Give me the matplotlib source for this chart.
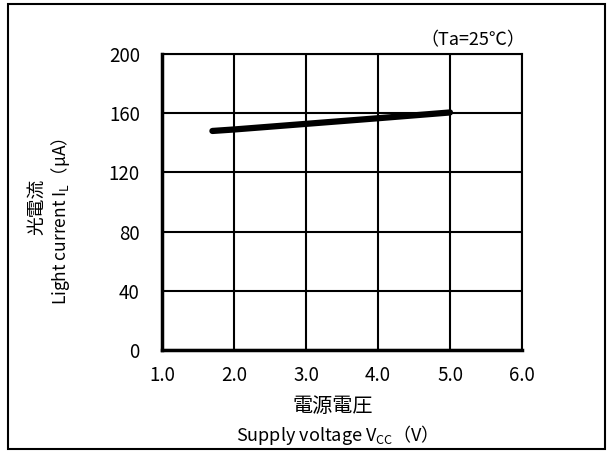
import matplotlib
matplotlib.use("Agg")
import matplotlib.pyplot as plt
from matplotlib.patches import Rectangle

plt.rcParams['font.family'] = ['Noto Sans CJK JP', 'DejaVu Sans']
plt.rcParams['mathtext.fontset'] = 'custom'
plt.rcParams['mathtext.rm'] = 'Noto Sans CJK JP'

# data
vcc = [1.7, 2.0, 3.0, 4.0, 5.0]
il = [148.0, 149.0, 152.8, 156.6, 160.5]

x_ticks = [1.0, 2.0, 3.0, 4.0, 5.0, 6.0]
x_labels = ["1.0", "2.0", "3.0", "4.0", "5.0", "6.0"]
y_ticks = [0, 40, 80, 120, 160, 200]

fig = plt.figure(figsize=(6.12, 4.53), dpi=100)
ax = fig.add_axes([162/612, 1 - 350/453, (522-162)/612, (350-54)/453])

ax.plot(vcc, il, color="black", linewidth=4.5, solid_capstyle="round")

ax.set_xlim(1.0, 6.0)
ax.set_ylim(0, 200)
ax.set_xticks(x_ticks)
ax.set_xticklabels(x_labels)
ax.set_yticks(y_ticks)
ax.grid(True, color="black", linewidth=1.5)
ax.set_axisbelow(True)
ax.tick_params(length=0, labelsize=13.5)
ax.tick_params(axis='y', pad=16)
ax.tick_params(axis='x', pad=11)
for s in ax.spines.values():
    s.set_linewidth(1.5)
ax.spines['left'].set_linewidth(2.5)
ax.spines['bottom'].set_linewidth(2.5)

# axis titles
fig.text(37/612, 1 - 207/453, "光電流", rotation=90, ha="center", va="center", fontsize=13.5)
fig.text(61/612, 1 - 222/453, "Light current I$_\\mathrm{L}$（μA）", rotation=90,
         ha="center", va="center", fontsize=12.5)
fig.text(333/612, 1 - 406/453, "電源電圧", ha="center", va="center", fontsize=14.5)
fig.text(332/612, 1 - 435/453, "Supply voltage V$_\\mathrm{CC}$（V）", ha="center",
         va="center", fontsize=13)
fig.text(473/612, 1 - 40/453, "（Ta=25℃）", ha="center", va="center", fontsize=13)

# outer frame
fig.patches.append(Rectangle((8/612, 4/453), 597/612, 445/453, transform=fig.transFigure,
                             fill=False, edgecolor="black", linewidth=1.5))

fig.savefig("out.png", dpi=100)
